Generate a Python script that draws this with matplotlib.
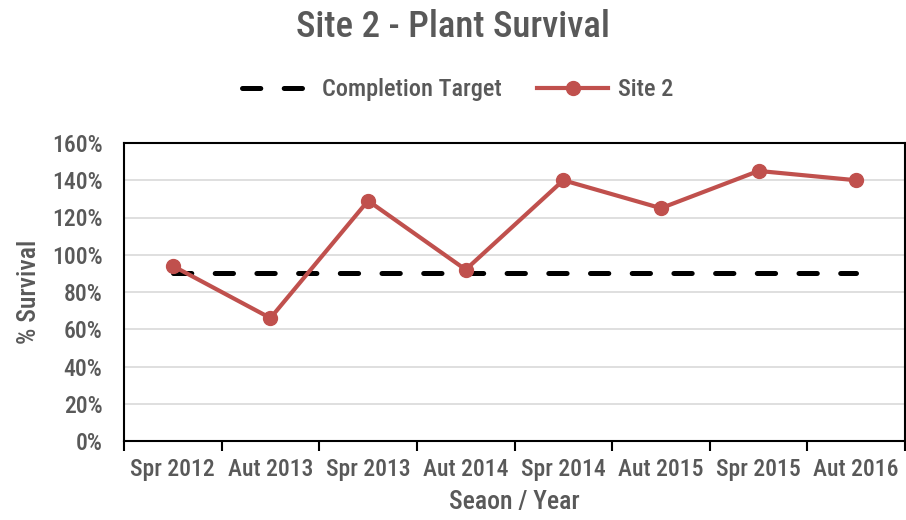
import matplotlib
matplotlib.use("Agg")
import matplotlib.pyplot as plt
import numpy as np

categories = ["Spr 2012", "Aut 2013", "Spr 2013", "Aut 2014", "Spr 2014", "Aut 2015", "Spr 2015", "Aut 2016"]
site2 = [94, 66, 129, 92, 140, 125, 145, 140]
target = [90, 90, 90, 90, 90, 90, 90, 90]
yticks = [0, 20, 40, 60, 80, 100, 120, 140, 160]

plt.rcParams['font.family'] = ["Roboto Condensed", "DejaVu Sans"]

txt = "#595959"
W = 500
fig = plt.figure(figsize=(9.06, 5.2), dpi=100)
ax = fig.add_axes([124/906, 79/520, 781/906, 298/520])

x = np.arange(len(categories))
ax.plot(x, target, color="black", lw=3.6, dashes=(3.66, 4.68), dash_capstyle="round",
        label="Completion Target", zorder=3)
ax.plot(x, site2, color="#C0504D", lw=3, marker="o", ms=10, label="Site 2", zorder=4)

ax.set_xlim(-0.5, len(categories) - 0.5)
ax.set_ylim(0, 160)
ax.set_yticks(yticks)
ax.set_yticklabels([f"{v}%" for v in yticks])
ax.set_xticks(x)
ax.set_xticklabels(categories)
ax.set_xticks(np.arange(-0.5, len(categories)), minor=True)
ax.tick_params(axis="x", which="major", length=0, pad=12, labelsize=17, labelcolor=txt)
ax.tick_params(axis="x", which="minor", length=7, width=1.5, color="black")
ax.tick_params(axis="y", length=0, pad=15.5, labelsize=17, labelcolor=txt)
for lbl in ax.get_xticklabels() + ax.get_yticklabels():
    lbl.set_fontweight(W)
ax.grid(axis="y", color="#D9D9D9", lw=1.2)
ax.set_axisbelow(True)
for s in ax.spines.values():
    s.set_color("black")
    s.set_linewidth(1.5)

ax.set_ylabel("% Survival", fontsize=18.5, color=txt, fontweight=W, labelpad=8)
ax.set_xlabel("Seaon / Year", fontsize=18.5, color=txt, fontweight=W, labelpad=7)
fig.text(0.5, 0.948, "Site 2 - Plant Survival", ha="center", va="center",
         fontsize=26.5, color=txt, fontweight=W)

leg = fig.legend(loc="center", bbox_to_anchor=(0.505, 0.827), ncol=2, frameon=False,
                 fontsize=17.5, handlelength=2.9, columnspacing=1.45, handletextpad=0.4)
for t in leg.get_texts():
    t.set_color(txt)
    t.set_fontweight(W)

fig.savefig("out.png", dpi=100)
